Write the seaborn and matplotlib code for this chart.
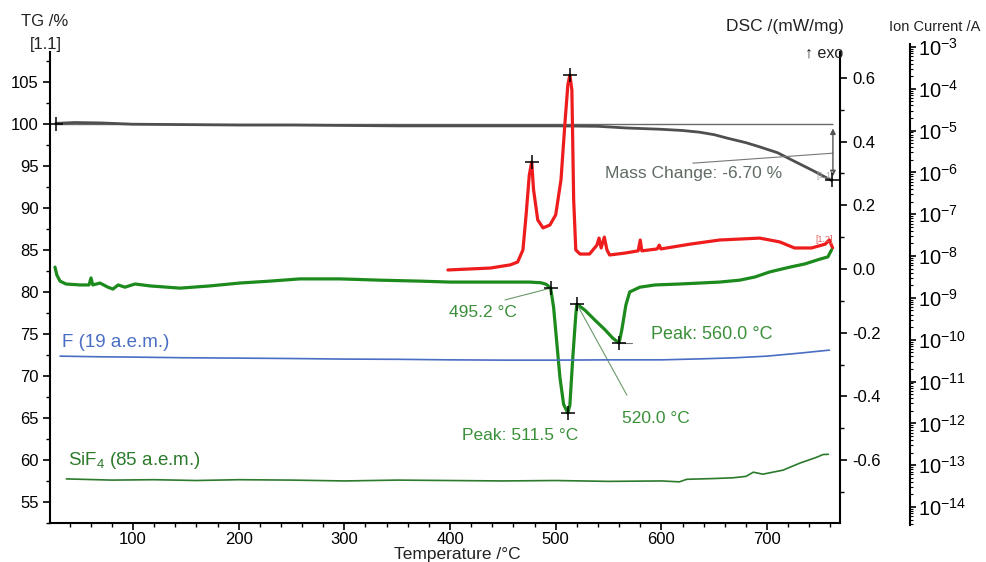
import numpy as np
import pandas as pd
import matplotlib
matplotlib.use("Agg")
import matplotlib.pyplot as plt
from matplotlib.ticker import MultipleLocator, LogLocator, FuncFormatter, NullFormatter, FixedLocator
import seaborn as sns

# ---------------- data ----------------
# TG curve (mass, %)
tg_temp = [27, 45, 70, 100, 150, 200, 250, 300, 350, 400, 450, 500, 540,
           567, 599, 620, 636, 650, 662, 680, 693, 710, 724, 743, 752, 761]
tg_mass = [100.1, 100.2, 100.15, 100.0, 99.95, 99.9, 99.9, 99.85, 99.8, 99.8,
           99.8, 99.8, 99.75, 99.55, 99.4, 99.25, 99.05, 98.75, 98.35, 97.8, 97.3,
           96.6, 95.7, 94.5, 93.9, 93.3]
mass_ref = 100.0

# DSC [1.1] (green), mW/mg
dsc1_temp = [26.2, 28, 31, 36.6, 50, 58.4, 60.3, 62, 68.8, 76.3, 81, 86, 92.4,
             102, 116, 144.5, 173, 201, 229.6, 258, 296, 333.7, 371.5, 400,
             437.7, 475.6, 480, 486, 491, 495.2, 498, 501, 504, 507.5, 511.5,
             513.4, 516, 519, 520, 527.6, 537, 546.5, 554, 560, 562.6, 566.4,
             570, 579.6, 594, 617.5, 636.4, 655, 674, 688.5, 702.6, 721.6,
             735.8, 750, 757.5, 761]
dsc1_val = [0.006, -0.019, -0.038, -0.047, -0.05, -0.05, -0.028, -0.05, -0.044,
            -0.057, -0.063, -0.05, -0.057, -0.047, -0.053, -0.06, -0.053,
            -0.044, -0.038, -0.031, -0.031, -0.035, -0.038, -0.041, -0.041,
            -0.041, -0.042, -0.043, -0.048, -0.06, -0.12, -0.23, -0.34, -0.425,
            -0.452, -0.427, -0.286, -0.144, -0.110, -0.129, -0.16, -0.19,
            -0.217, -0.232, -0.19, -0.113, -0.072, -0.057, -0.05, -0.047,
            -0.044, -0.041, -0.035, -0.025, -0.009, 0.006, 0.016, 0.031, 0.038,
            0.06]

# DSC [1.2] (red), mW/mg
dsc2_temp = [398, 438, 457, 464, 469, 472, 475, 477.3, 479, 483, 488, 494.5,
             500, 505, 509, 511.5, 513.4, 515.3, 517, 519, 523, 532, 539, 541,
             543, 546, 548.5, 551, 565.5, 578, 580, 581.5, 596, 598, 599.5,
             627, 655, 693, 712, 726, 742, 755, 759, 762]
dsc2_val = [-0.003, 0.003, 0.013, 0.022, 0.06, 0.17, 0.295, 0.336, 0.25, 0.154,
            0.129, 0.138, 0.17, 0.28, 0.47, 0.578, 0.609, 0.562, 0.217, 0.06,
            0.047, 0.047, 0.075, 0.097, 0.066, 0.1, 0.06, 0.044, 0.05, 0.057,
            0.091, 0.057, 0.063, 0.075, 0.063, 0.078, 0.091, 0.097, 0.085,
            0.066, 0.066, 0.078, 0.091, 0.066]

# DSC events of curve [1.1]
onset_temp, onset_val = 495.2, -0.06
peak_temps = [511.5, 560.0]
peak_vals = [-0.452, -0.232]
shoulder_temp, shoulder_val = 520.0, -0.110
# red curve peaks
red_peak_temps = [477.3, 513.4]
red_peak_vals = [0.336, 0.609]

# Ion currents, A
f_temp = [31, 70, 100, 150, 200, 250, 300, 350, 400, 450, 500, 550, 600, 640,
          670, 700, 731, 759]
f_current = [4.05e-11, 3.9e-11, 3.84e-11, 3.7e-11, 3.63e-11, 3.55e-11, 3.44e-11,
             3.4e-11, 3.3e-11, 3.25e-11, 3.25e-11, 3.3e-11, 3.3e-11, 3.5e-11,
             3.7e-11, 4.05e-11, 4.78e-11, 5.64e-11]
sif4_temp = [37, 80, 120, 160, 200, 250, 300, 350, 400, 450, 500, 550, 600, 617,
             624, 650, 668, 680, 687, 696, 715, 731, 747, 753, 758]
sif4_current = [4.7e-14, 4.4e-14, 4.5e-14, 4.3e-14, 4.5e-14, 4.4e-14, 4.2e-14,
                4.4e-14, 4.3e-14, 4.2e-14, 4.3e-14, 4.1e-14, 4.2e-14, 4.0e-14,
                4.6e-14, 4.8e-14, 5.0e-14, 5.4e-14, 6.8e-14, 6.1e-14, 7.6e-14,
                1.12e-13, 1.55e-13, 1.8e-13, 1.82e-13]
ion_decades = list(range(-14, -2))

# ---------------- style ----------------
sns.set_theme(style="ticks")
plt.rcParams['font.family'] = ['Liberation Sans', 'DejaVu Sans']
plt.rcParams['mathtext.fontset'] = 'custom'
plt.rcParams['mathtext.rm'] = 'Liberation Sans'
plt.rcParams['mathtext.it'] = 'Liberation Sans:italic'
plt.rcParams['mathtext.bf'] = 'Liberation Sans:bold'

W, H = 986, 562
fig = plt.figure(figsize=(W / 100, H / 100), dpi=100)


def fx(px):
    return px / W


def fy(py):
    return 1 - py / H


ax = fig.add_axes([fx(50), fy(523), fx(840) - fx(50), fy(52) - fy(523)])
ax_dsc = ax.twinx()
ax_ion = fig.add_axes([fx(50), fy(525), fx(840) - fx(50), fy(44) - fy(525)])
ax_ion.patch.set_visible(False)

xlim = (21.5, 769)
for a in (ax, ax_dsc, ax_ion):
    a.set_xlim(*xlim)

GREEN = '#1c8a1c'
RED = '#ee1c1c'
GREY = '#4f4f4f'
BLUE = '#4a6ec4'
DKGREEN = '#2c7a2c'
TXTGREEN = '#3a8f3a'

# TG
df_tg = pd.DataFrame({'T': tg_temp, 'TG': tg_mass})
ax.hlines(mass_ref, tg_temp[0], tg_temp[-1] + 1, color='#6a6a6a', lw=1.0, zorder=1)
sns.lineplot(data=df_tg, x='T', y='TG', ax=ax, color=GREY, lw=2.0, sort=False,
             estimator=None)
ax.set_ylim(52.5, 108.6)

# DSC curves
df_d1 = pd.DataFrame({'T': dsc1_temp, 'DSC': dsc1_val})
df_d2 = pd.DataFrame({'T': dsc2_temp, 'DSC': dsc2_val})
sns.lineplot(data=df_d2, x='T', y='DSC', ax=ax_dsc, color=RED, lw=2.3, sort=False,
             estimator=None)
sns.lineplot(data=df_d1, x='T', y='DSC', ax=ax_dsc, color=GREEN, lw=2.3, sort=False,
             estimator=None)
ax_dsc.set_ylim(-0.797, 0.681)

# Ion currents
df_f = pd.DataFrame({'T': f_temp, 'I': f_current})
df_s = pd.DataFrame({'T': sif4_temp, 'I': sif4_current})
sns.lineplot(data=df_f, x='T', y='I', ax=ax_ion, color=BLUE, lw=1.2, sort=False,
             estimator=None)
sns.lineplot(data=df_s, x='T', y='I', ax=ax_ion, color=DKGREEN, lw=1.2, sort=False,
             estimator=None)
ax_ion.set_yscale('log')
ax_ion.set_ylim(10 ** -14.43, 10 ** -2.93)
ax_ion.set_xlim(*xlim)

# markers
mk = dict(marker='+', s=110, color='black', linewidth=1.1, zorder=6)
sns.scatterplot(x=[onset_temp, shoulder_temp] + peak_temps,
                y=[onset_val, shoulder_val] + peak_vals, ax=ax_dsc, **mk)
sns.scatterplot(x=red_peak_temps, y=red_peak_vals, ax=ax_dsc, **mk)
sns.scatterplot(x=[tg_temp[0], tg_temp[-1]], y=[mass_ref, tg_mass[-1]], ax=ax, **mk)

# DSC annotations
ax_dsc.plot([452, onset_temp], [-0.097, onset_val], color='#6a9a6a', lw=0.8)
ax_dsc.text(431, -0.138, f"{onset_temp:.1f} °C", color=TXTGREEN, fontsize=12.5,
            ha='center', va='center')
ax_dsc.text(466, -0.521, f"Peak: {peak_temps[0]:.1f} °C", color=TXTGREEN,
            fontsize=12.5, ha='center', va='center')
ax_dsc.plot([567.4, shoulder_temp], [-0.396, shoulder_val], color='#6a9a6a', lw=0.8)
ax_dsc.text(594.8, -0.468, f"{shoulder_temp:.1f} °C", color=TXTGREEN, fontsize=12.5,
            ha='center', va='center')
ax_dsc.plot([peak_temps[1], peak_temps[1] + 12], [peak_vals[1], peak_vals[1]],
            color='#777777', lw=0.8)
ax_dsc.text(648, -0.204, f"Peak: {peak_temps[1]:.1f} °C", color=TXTGREEN,
            fontsize=13, ha='center', va='center')
ax_dsc.text(753.7, 0.094, "[1.2]", color='#e06060', fontsize=6.5, ha='center',
            va='center')

# Mass change annotation
mass_change = tg_mass[-1] - mass_ref
ax.annotate('', xy=(762.3, tg_mass[-1] + 0.5), xytext=(762.3, mass_ref - 0.5),
            arrowprops=dict(arrowstyle='<|-|>', color='#555555', lw=1.0,
                            mutation_scale=8, shrinkA=0, shrinkB=0))
ax.plot([629.8, 762.3], [95.36, 96.55], color='#777777', lw=0.8)
ax.text(630.7, 94.17, f"Mass Change: {mass_change:.2f} %", color='#5f6b63',
        fontsize=12.5, ha='center', va='center')
ax.text(755, 93.9, "[1.1]", color='#a8a8a8', fontsize=6.5, ha='center', va='center')

# ion labels
ax_ion.text(32.8, 8.7e-11, "F (19 a.e.m.)", color=BLUE, fontsize=13.5, ha='left',
            va='center')
ax_ion.text(38.5, 1.32e-13, "SiF$_4$ (85 a.e.m.)", color=DKGREEN, fontsize=13.5,
            ha='left', va='center')

# ---------------- axes formatting ----------------
for a in (ax, ax_dsc, ax_ion):
    a.set_xlabel('')
    a.set_ylabel('')
    for s in a.spines.values():
        s.set_color('black')
        s.set_linewidth(1.5)

ax.spines['top'].set_visible(False)
ax.spines['right'].set_visible(False)
ax_dsc.spines['top'].set_visible(False)
ax_dsc.spines['left'].set_visible(False)
ax_dsc.spines['bottom'].set_visible(False)
for side in ('top', 'left', 'bottom'):
    ax_ion.spines[side].set_visible(False)
ax_ion.spines['right'].set_position(('axes', (910 - 50) / 790))
ax_ion.xaxis.set_visible(False)

ax.xaxis.set_major_locator(MultipleLocator(100))
ax.xaxis.set_minor_locator(MultipleLocator(20))
ax.yaxis.set_major_locator(MultipleLocator(5))
ax.yaxis.set_minor_locator(MultipleLocator(2.5))
ax.tick_params(axis='both', which='major', direction='out', length=5, width=1.2,
               labelsize=12, colors='black', pad=3)
ax.tick_params(axis='both', which='minor', direction='out', length=3, width=1.0,
               colors='black')
ax.tick_params(axis='x', which='both', pad=1.5)

ax_dsc.yaxis.set_major_locator(MultipleLocator(0.2))
ax_dsc.yaxis.set_minor_locator(MultipleLocator(0.1))
ax_dsc.yaxis.set_major_formatter(
    FuncFormatter(lambda v, p: "0.0" if abs(v) < 1e-9 else f"{v:.1f}"))
ax_dsc.tick_params(axis='y', which='major', direction='out', length=5, width=1.2,
                   labelsize=12, colors='black', pad=4)
ax_dsc.tick_params(axis='y', which='minor', direction='out', length=3, width=1.0,
                   colors='black')

ax_ion.yaxis.set_major_locator(FixedLocator([10.0 ** d for d in ion_decades]))
ax_ion.yaxis.set_minor_locator(FixedLocator(
    [m * 10.0 ** d for d in [-15] + ion_decades for m in range(2, 10)
     if 10 ** -14.43 < m * 10.0 ** d < 10 ** -2.93]))
ax_ion.yaxis.set_minor_formatter(NullFormatter())
ax_ion.yaxis.set_major_formatter(
    FuncFormatter(lambda v, p: rf"$10^{{{int(round(np.log10(v)))}}}$"))
ax_ion.tick_params(axis='y', which='major', direction='out', length=4, width=1.2,
                   labelsize=14.5, colors='black', pad=2, left=False, right=True,
                   labelleft=False, labelright=True)
ax_ion.tick_params(axis='y', which='minor', direction='out', length=2, width=0.8,
                   colors='black', left=False, right=True)

# titles
fig.text(fx(45), fy(22), "TG /%", fontsize=12, ha='center', va='center', color='#222222')
fig.text(fx(46), fy(44), "[1.1]", fontsize=12, ha='center', va='center', color='#222222')
fig.text(fx(785), fy(27), "DSC /(mW/mg)", fontsize=12.5, ha='center', va='center',
         color='#222222')
fig.text(fx(935), fy(27), "Ion Current /A", fontsize=10.5, ha='center', va='center',
         color='#222222')
fig.text(fx(843), fy(53), "↑ exo", fontsize=11.5, ha='right', va='center',
         color='#222222')
fig.text(fx(457), fy(554), "Temperature /°C", fontsize=12.5, ha='center',
         va='center', color='#222222')

fig.savefig("out.png", dpi=100)
